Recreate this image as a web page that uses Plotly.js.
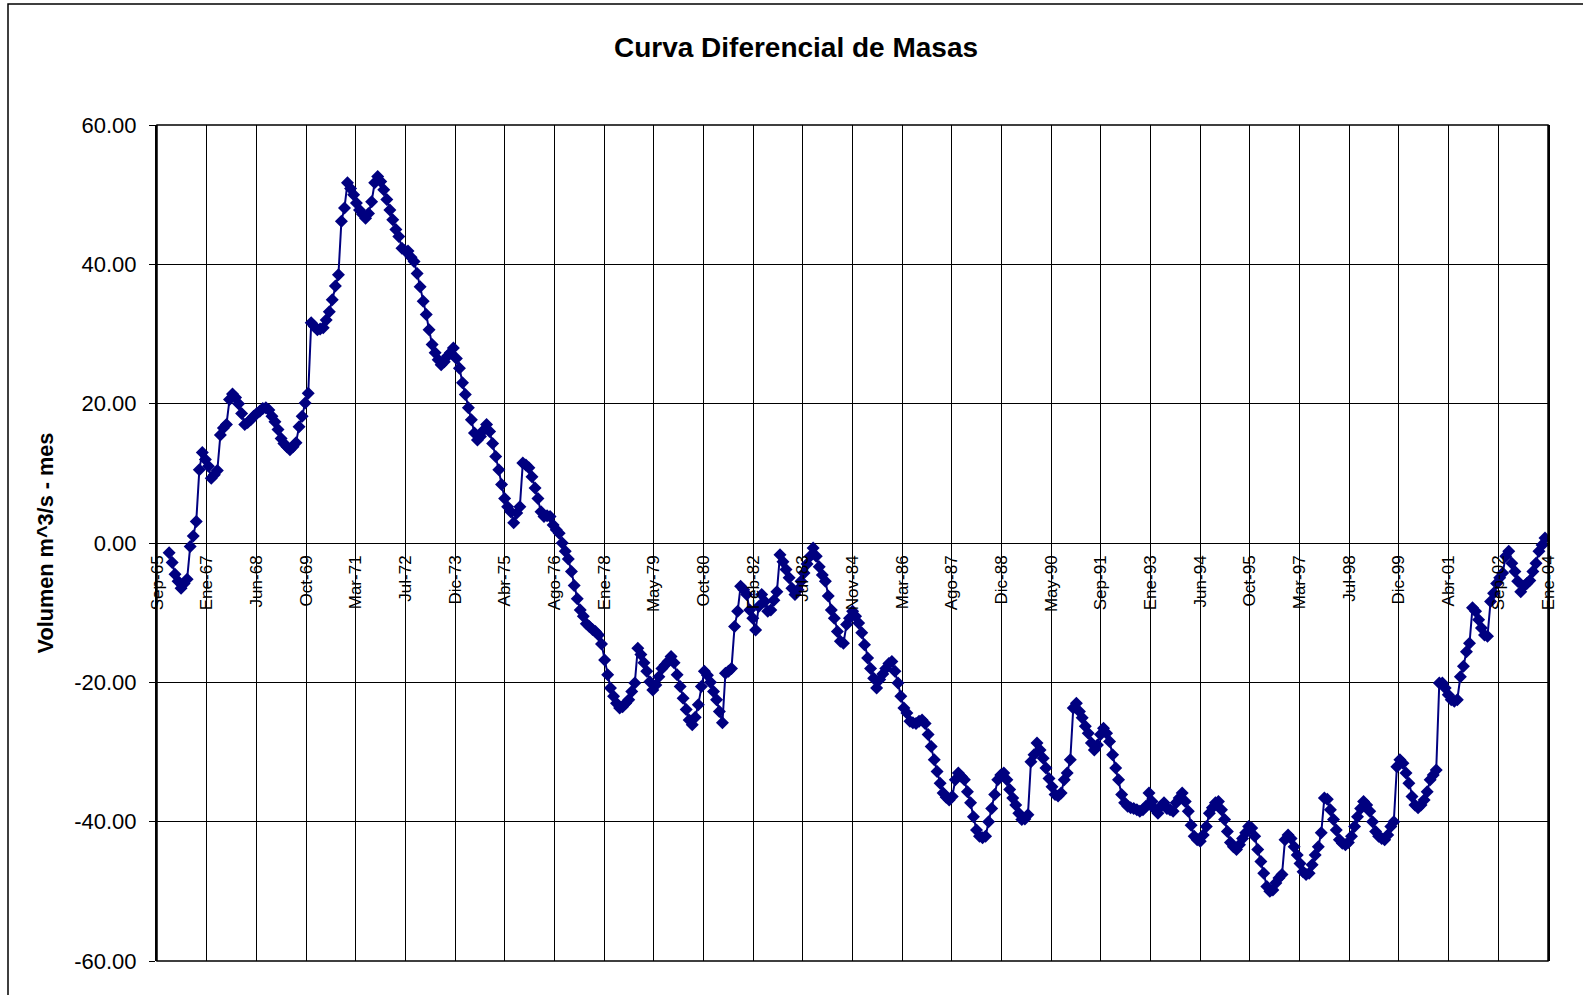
<!DOCTYPE html>
<html><head><meta charset="utf-8">
<script src="https://cdn.plot.ly/plotly-3.0.1.min.js"></script>
<style>html,body{margin:0;padding:0;background:#fff;}#chart{width:1583px;height:995px;}</style>
</head><body><div id="chart"></div>
<script>
// Monthly values (m^3/s - mes), starting January 1966
const v1966_1970 = [-1.4,-2.8,-4.5,-5.5,-6.5,-5.8,-5.2,-0.5,1.0,3.1,10.5,13.0,
 12.0,11.0,9.3,9.8,10.4,15.5,16.5,17.0,20.6,21.4,20.9,20.0,
 18.6,17.0,17.3,17.7,18.2,18.6,18.9,19.3,19.4,19.1,18.2,17.4,
 16.3,15.0,14.3,13.8,13.4,13.8,14.4,16.7,18.2,20.1,21.5,31.6,
 31.1,30.6,30.7,30.9,32.0,33.2,34.9,36.9,38.5,46.2,48.1,51.7];
const v1971_1975 = [50.9,50.0,48.8,47.8,47.2,46.6,47.3,49.0,51.7,52.6,51.9,50.7,
 49.3,47.8,46.4,45.0,44.0,42.3,42.0,41.9,41.0,40.4,38.7,36.8,
 34.7,32.8,30.6,28.5,27.3,26.3,25.6,26.0,26.8,27.3,28.0,26.5,
 25.1,23.0,21.3,19.4,17.7,15.8,14.8,15.3,16.2,17.0,16.0,14.3,
 12.4,10.5,8.4,6.4,5.2,4.5,2.9,4.3,5.2,11.5,11.2,10.8];
const v1976_1980 = [9.5,7.9,6.4,4.5,3.8,3.9,3.8,2.6,1.9,1.4,0.0,-1.2,
 -2.3,-4.1,-6.1,-8.0,-9.6,-10.5,-11.6,-12.0,-12.4,-12.7,-13.2,-14.5,
 -16.8,-18.9,-20.8,-22.0,-23.0,-23.7,-23.5,-23.0,-22.5,-21.3,-20.1,-15.1,
 -16.0,-17.2,-18.4,-19.9,-21.1,-20.4,-19.2,-18.0,-17.5,-17.0,-16.3,-17.2,
 -18.9,-20.6,-22.3,-23.9,-25.4,-26.1,-25.0,-23.2,-20.6,-18.4,-19.0,-20.0];
const v1981_1985 = [-21.3,-22.5,-24.2,-25.8,-18.7,-18.4,-18.0,-12.0,-9.8,-6.2,-6.7,-7.4,
 -9.6,-10.8,-12.5,-9.1,-7.4,-8.4,-9.8,-9.6,-8.2,-7.0,-1.7,-2.7,
 -3.8,-5.0,-6.5,-7.4,-6.7,-5.5,-4.3,-3.0,-1.9,-0.7,-1.9,-3.4,
 -4.6,-5.5,-7.6,-9.6,-10.8,-12.7,-14.1,-14.4,-11.7,-10.8,-9.8,-10.5,
 -11.5,-12.9,-14.6,-16.5,-18.0,-19.4,-20.8,-19.6,-18.8,-18.0,-17.3,-17.0];
const v1986_1990 = [-18.4,-20.1,-22.0,-23.7,-24.4,-25.6,-25.8,-25.9,-25.6,-25.4,-25.9,-27.5,
 -29.2,-31.1,-32.8,-34.5,-35.9,-36.5,-36.9,-36.4,-34.0,-33.0,-33.5,-34.0,
 -35.7,-37.3,-39.3,-41.2,-42.1,-42.3,-42.1,-40.0,-38.1,-36.1,-34.0,-33.3,
 -33.0,-34.0,-35.4,-36.6,-37.6,-38.8,-39.7,-39.6,-39.0,-31.4,-30.4,-28.7,
 -29.7,-30.9,-32.3,-33.8,-35.0,-36.1,-36.3,-35.9,-34.0,-33.0,-31.1,-23.7];
const v1991_1995 = [-23.0,-24.2,-25.1,-26.3,-27.3,-28.7,-29.7,-29.0,-27.5,-26.6,-27.3,-28.5,
 -30.4,-32.3,-34.0,-36.1,-37.3,-37.8,-38.0,-38.1,-38.3,-38.5,-38.3,-37.8,
 -35.9,-37.1,-38.2,-38.8,-37.8,-37.3,-38.1,-38.3,-38.5,-37.3,-36.6,-35.9,
 -37.1,-38.5,-40.5,-42.1,-42.6,-42.8,-41.9,-40.7,-38.8,-38.0,-37.3,-37.1,
 -38.3,-39.7,-41.4,-43.0,-43.6,-44.0,-43.3,-42.4,-41.6,-40.7,-40.9,-42.1];
const v1996_2000 = [-44.0,-45.7,-47.4,-49.3,-50.0,-49.8,-48.8,-48.1,-47.6,-42.6,-41.9,-42.4,
 -43.6,-44.8,-46.0,-47.2,-47.6,-47.4,-46.2,-44.8,-43.6,-41.6,-36.6,-36.8,
 -38.3,-39.7,-41.2,-42.6,-43.1,-43.3,-43.0,-42.1,-40.7,-39.3,-38.1,-37.1,
 -37.6,-38.5,-40.0,-41.4,-42.1,-42.4,-42.6,-41.9,-40.7,-40.0,-32.1,-31.1,
 -31.6,-33.0,-34.5,-36.4,-37.6,-38.0,-37.6,-36.9,-35.7,-34.0,-33.3,-32.6];
const v2001_2003 = [-20.1,-20.1,-20.8,-21.8,-22.5,-22.7,-22.5,-19.2,-17.7,-15.6,-14.4,-9.3,
 -9.8,-11.0,-12.2,-13.2,-13.4,-8.4,-7.2,-5.8,-5.0,-4.3,-1.9,-1.2,
 -2.9,-4.1,-5.5,-7.0,-6.2,-5.8,-5.4,-4.1,-2.9,-1.2,-0.3,0.7];

const xTickLabels = ['Sep-65','Ene-67','Jun-68','Oct-69','Mar-71','Jul-72','Dic-73','Abr-75','Ago-76',
 'Ene-78','May-79','Oct-80','Feb-82','Jul-83','Nov-84','Mar-86','Ago-87','Dic-88','May-90','Sep-91',
 'Ene-93','Jun-94','Oct-95','Mar-97','Jul-98','Dic-99','Abr-01','Sep-02','Ene-04'];
const yTickValues = [-60,-40,-20,0,20,40,60];
const yTickLabels = ['-60.00','-40.00','-20.00','0.00','20.00','40.00','60.00'];

const values = [].concat(v1966_1970,v1971_1975,v1976_1980,v1981_1985,v1986_1990,v1991_1995,v1996_2000,v2001_2003);
const dates = values.map((_,i)=>{
  const y = 1966 + Math.floor(i/12), m = (i%12)+1;
  return y + '-' + String(m).padStart(2,'0') + '-15';
});
// axis ticks every 500 days starting 15 Sep 1965 (Excel date axis)
const t0 = Date.UTC(1965,8,15);
const tickVals = xTickLabels.map((_,k)=> new Date(t0 + k*500*86400000).toISOString().slice(0,10));

const FONT = 'Liberation Sans, Arial, sans-serif';
const L=157, R=35, T=125, B=34, W=1583, H=995;
const pw = W-L-R, ph = H-T-B;
const px = v => (v-L)/pw, py = v => (H-B-v)/ph;

const trace = {
  x: dates, y: values, type:'scatter', mode:'lines+markers',
  line:{color:'#000080', width:2},
  marker:{symbol:'diamond', size:10, color:'#000080', line:{width:0}},
  hoverinfo:'x+y', showlegend:false
};

const layout = {
  width:W, height:H,
  margin:{l:L, r:R, t:T, b:B, pad:0},
  paper_bgcolor:'#fff', plot_bgcolor:'#fff',
  font:{family:FONT, color:'#000'},
  title:{text:'Curva Diferencial de Masas', font:{family:FONT, size:28, weight:'bold', color:'#000'},
         x:796/W, xref:'container', xanchor:'center', y:1-47/H, yref:'container', yanchor:'middle'},
  xaxis:{type:'date', range:[tickVals[0], tickVals[tickVals.length-1]],
         tickmode:'array', tickvals:tickVals, ticktext:xTickLabels, tickangle:-90,
         tickfont:{family:FONT, size:17, color:'#000'},
         anchor:'free', position:0.5, showline:false, zeroline:false,
         showgrid:true, gridcolor:'#000', gridwidth:1, ticks:'', ticklabelstandoff:8},
  yaxis:{range:[-60,60], tickmode:'array', tickvals:yTickValues, ticktext:yTickLabels,
         tickfont:{family:FONT, size:22, color:'#000'},
         showgrid:true, gridcolor:'#000', gridwidth:1, zeroline:true, zerolinecolor:'#000', zerolinewidth:1,
         showline:true, linecolor:'#000', linewidth:2, mirror:true,
         ticks:'outside', ticklen:6, tickcolor:'#000', ticklabelstandoff:8,
         title:{text:'Volumen m^3/s - mes', font:{family:FONT, size:21.7, weight:'bold', color:'#000'}, standoff:15}},
  shapes:[
    {type:'rect', xref:'paper', yref:'paper', x0:0, x1:1, y0:0, y1:1, line:{color:'#000', width:1.5}, layer:'above'},
    {type:'rect', xref:'paper', yref:'paper', x0:px(8), x1:px(1595), y0:py(1010), y1:py(4), line:{color:'#000', width:1.5}, layer:'below'}
  ]
};
Plotly.newPlot('chart',[trace],layout,{displayModeBar:false, staticPlot:true});
</script></body></html>
